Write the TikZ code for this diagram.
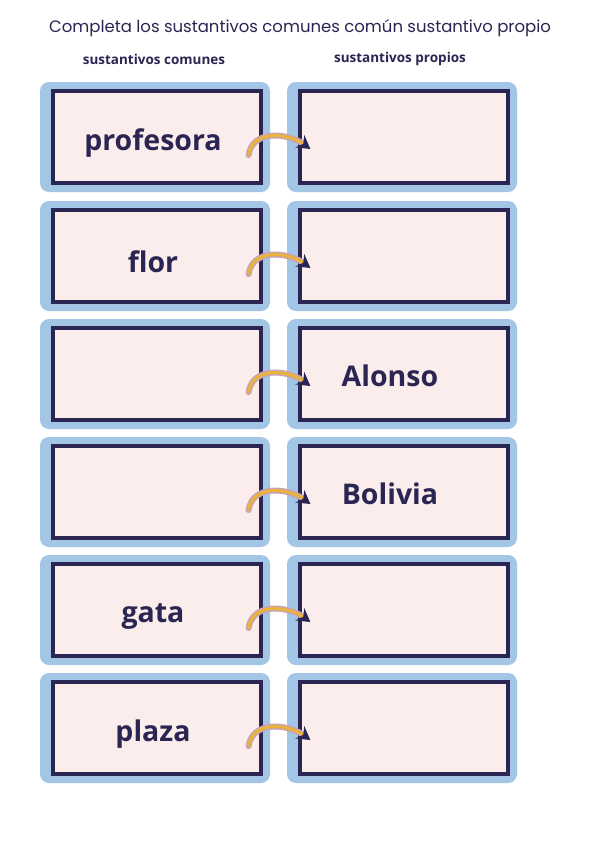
\documentclass[tikz,border=0pt]{standalone}
\usepackage{fontspec}
\setmainfont{Open Sans}
\newfontfamily\titlefont{Poppins}
\usetikzlibrary{arrows.meta}
\definecolor{lblue}{HTML}{A3C5E6}
\definecolor{pinkfill}{HTML}{FBEDEC}
\definecolor{navy}{HTML}{2A2552}
\definecolor{gold}{HTML}{E9B43C}
\definecolor{mauve}{HTML}{C9A2B6}
\tikzset{
 outerbox/.style={fill=lblue, rounded corners=9pt, minimum width=230pt, minimum height=110pt, inner sep=0pt},
 innerbox/.style={fill=pinkfill, draw=navy, line width=3.2pt, minimum width=208pt, minimum height=92pt, inner sep=0pt},
 word/.style={text=navy, font=\bfseries\fontsize{28.5}{31}\selectfont},
 head/.style={text=navy, font=\bfseries\fontsize{13.5}{15}\selectfont},
 arrback/.style={mauve, line width=6pt, line cap=round, shorten >=8pt},
 arrfront/.style={gold, line width=3pt, line cap=round, -{Stealth[length=13pt,width=15pt,navy]}},
}
\begin{document}
\begin{tikzpicture}[x=1pt,y=-1pt]
\useasboundingbox[fill=white] (0,0) rectangle (600,849);
\node[text=navy, font=\titlefont\fontsize{16.5}{19}\selectfont] (title) at (300,28) {Completa los sustantivos comunes común sustantivo propio};
\node[head] (hl) at (154,59) {sustantivos comunes};
\node[head] (hr) at (400,59) {sustantivos propios};
\foreach \i/\y/\l/\r in {1/137/profesora/, 2/256/flor/, 3/374//Alonso, 4/492//Bolivia, 5/610/gata/, 6/728/plaza/}{
  \node[outerbox] (ol\i) at (155,\y) {};
  \node[outerbox] (or\i) at (402,\y) {};
  \node[innerbox] (l\i) at (157,\y) {};
  \node[innerbox] (r\i) at (404,\y) {};
  \node[word] (tl\i) at (153,\y+6) {\l};
  \node[word] (tr\i) at (390,\y+2) {\r};
  \coordinate (a\i) at ([xshift=-14pt,yshift=-18pt]l\i.east);
  \coordinate (b\i) at ([xshift=12pt,yshift=-12pt]r\i.west);
  \draw[arrback] (a\i) .. controls ([xshift=4pt,yshift=26pt]a\i) and ([xshift=-22pt,yshift=16pt]b\i) .. (b\i);
  \draw[arrfront] (a\i) .. controls ([xshift=4pt,yshift=26pt]a\i) and ([xshift=-22pt,yshift=16pt]b\i) .. (b\i);
}
\end{tikzpicture}
\end{document}
